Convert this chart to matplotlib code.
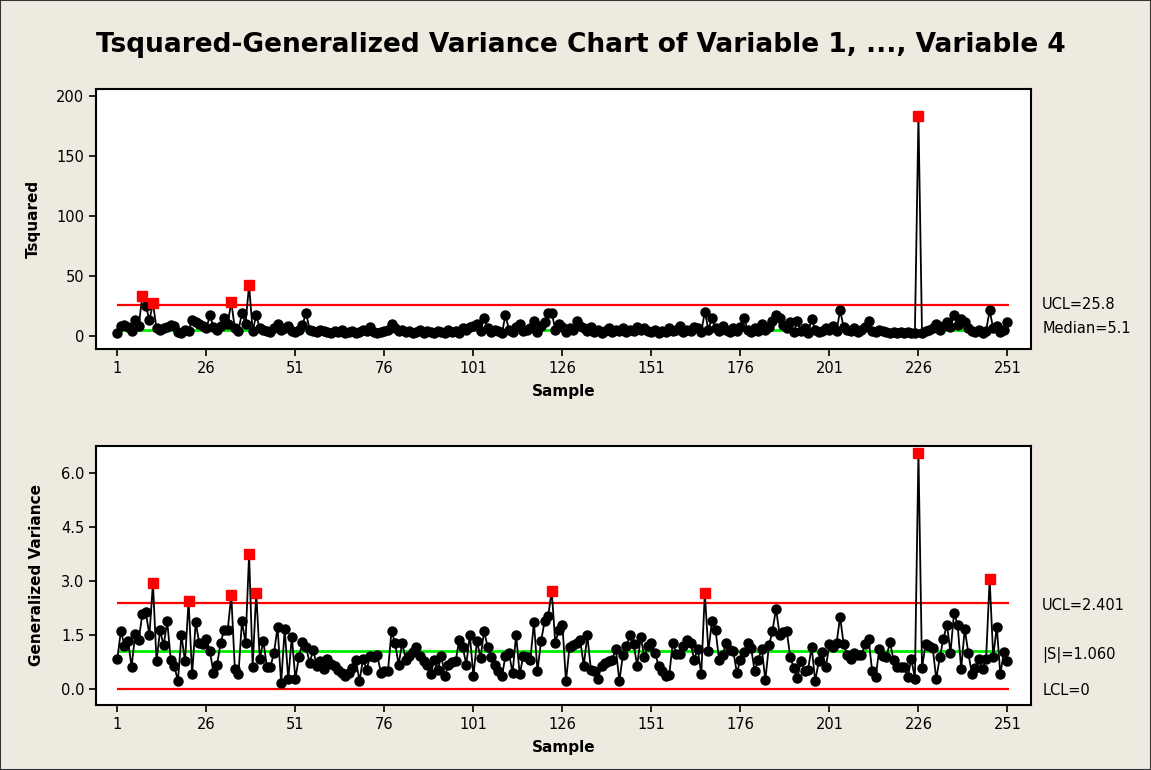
# Tsquared-Generalized Variance chart (Minitab style).
import numpy as np
import matplotlib.pyplot as plt
from matplotlib.transforms import blended_transform_factory

# Tsquared per sample
tsq = [2, 8, 9, 7, 4, 13, 8, 33, 25, 13,
       27, 6, 5, 6, 7, 9, 8, 3, 2, 5,
       4, 13, 11, 10, 8, 6, 17, 7, 5, 8,
       15, 10, 28, 6, 4, 19, 10, 42, 4, 17,
       6, 5, 4, 3, 6, 10, 5, 6, 8, 4,
       3, 5, 9, 19, 5, 4, 3, 5, 4, 3,
       2, 4, 3, 5, 2, 3, 4, 2, 3, 5,
       4, 7, 3, 2, 3, 4, 5, 10, 6, 4,
       5, 3, 4, 2, 3, 5, 2, 4, 3, 2,
       4, 3, 2, 5, 3, 4, 2, 6, 5, 7,
       8, 10, 4, 15, 6, 3, 5, 4, 2, 17,
       5, 3, 7, 10, 4, 5, 6, 12, 3, 8,
       11, 19, 19, 5, 10, 7, 3, 6, 5, 12,
       8, 6, 4, 7, 3, 5, 2, 4, 6, 3,
       5, 4, 6, 3, 5, 4, 7, 5, 6, 4,
       3, 5, 2, 4, 3, 6, 4, 5, 8, 3,
       5, 4, 7, 6, 3, 20, 5, 15, 6, 4,
       8, 5, 3, 6, 4, 7, 15, 5, 3, 6,
       4, 10, 5, 7, 12, 17, 15, 9, 6, 11,
       3, 12, 4, 6, 2, 14, 5, 3, 4, 6,
       5, 8, 4, 21, 7, 5, 4, 6, 3, 5,
       7, 12, 4, 3, 5, 4, 3, 2, 3, 2,
       3, 2, 3, 2, 2, 183, 2, 4, 5, 6,
       10, 5, 8, 11, 7, 17, 9, 14, 11, 6,
       4, 3, 5, 2, 4, 21, 6, 8, 3, 5,
       11]

# Generalized variance |S| per sample
gv = [0.85, 1.63, 1.2, 1.34, 0.63, 1.53, 1.38, 2.08, 2.14, 1.5,
      2.95, 0.78, 1.64, 1.22, 1.89, 0.83, 0.66, 0.23, 1.5, 0.78,
      2.45, 0.42, 1.86, 1.29, 1.25, 1.41, 1.06, 0.46, 0.69, 1.29,
      1.66, 1.66, 2.61, 0.57, 0.42, 1.89, 1.29, 3.75, 0.63, 2.68,
      0.85, 1.34, 0.63, 0.63, 1.02, 1.73, 0.17, 1.68, 0.28, 1.46,
      0.3, 0.9, 1.31, 1.18, 0.74, 1.09, 0.66, 0.8, 0.57, 0.85,
      0.7, 0.65, 0.55, 0.45, 0.37, 0.46, 0.6, 0.83, 0.23, 0.85,
      0.55, 0.92, 0.9, 0.97, 0.46, 0.5, 0.51, 1.62, 1.29, 0.69,
      1.29, 0.83, 0.92, 1.05, 1.18, 0.92, 0.8, 0.69, 0.42, 0.83,
      0.55, 0.92, 0.37, 0.69, 0.75, 0.78, 1.37, 1.18, 0.69, 1.52,
      0.37, 1.34, 0.88, 1.62, 1.18, 0.9, 0.69, 0.51, 0.37, 0.92,
      1.0, 0.46, 1.52, 0.42, 0.92, 0.9, 0.83, 1.86, 0.51, 1.34,
      1.89, 2.03, 2.73, 1.29, 1.66, 1.8, 0.23, 1.18, 1.22, 1.3,
      1.37, 0.66, 1.5, 0.55, 0.51, 0.3, 0.65, 0.74, 0.8, 0.83,
      1.13, 0.23, 0.97, 1.2, 1.5, 1.25, 0.66, 1.46, 0.9, 1.2,
      1.29, 1.02, 0.66, 0.51, 0.37, 0.4, 1.29, 0.99, 0.99, 1.2,
      1.37, 1.29, 0.83, 1.13, 0.42, 2.68, 1.06, 1.89, 1.66, 0.83,
      0.97, 1.29, 1.1, 1.06, 0.46, 0.83, 1.04, 1.29, 1.15, 0.51,
      0.83, 1.13, 0.26, 1.22, 1.62, 2.24, 1.52, 1.6, 1.62, 0.9,
      0.6, 0.32, 0.78, 0.51, 0.55, 1.18, 0.23, 0.78, 1.04, 0.63,
      1.25, 1.18, 1.29, 2.01, 1.25, 0.97, 0.85, 1.02, 0.97, 0.97,
      1.25, 1.39, 0.51, 0.35, 1.13, 0.92, 0.9, 1.31, 0.83, 0.63,
      0.63, 0.63, 0.35, 0.85, 0.3, 6.55, 0.6, 1.25, 1.2, 1.15,
      0.3, 0.89, 1.4, 1.8, 1.02, 2.12, 1.8, 0.57, 1.68, 1.02,
      0.44, 0.6, 0.85, 0.57, 0.85, 3.06, 0.9, 1.74, 0.42, 1.04,
      0.8]

x_ticks = [1, 26, 51, 76, 101, 126, 151, 176, 201, 226, 251]
tsq_ticks = [0, 50, 100, 150, 200]
gv_ticks = [0.0, 1.5, 3.0, 4.5, 6.0]

tsq_ucl = 25.8
tsq_median = 5.1
gv_ucl = 2.401
gv_center = 1.060
gv_lcl = 0

bg = '#eeeae0'
samples = np.arange(1, len(tsq) + 1)


def draw_panel(ax, values, ucl, center, lcl, labels):
    values = np.array(values)
    # limit lines run over the samples only
    ax.hlines(ucl, 1, len(values) + 0.5, colors='#ff0000', lw=1.6, zorder=2)
    ax.hlines(center, 1, len(values) + 0.5, colors='#00ee00', lw=2, zorder=2)
    if lcl is not None:
        ax.hlines(lcl, 1, len(values) + 0.5, colors='#ff0000', lw=1.6, zorder=2)
    ax.plot(samples, values, color='black', lw=1.3, marker='o', markersize=6.5,
            markerfacecolor='black', markeredgecolor='black', zorder=3)
    out = values > ucl
    ax.plot(samples[out], values[out], linestyle='none', marker='s',
            markersize=7, color='#ff0000', zorder=4)

    trans = blended_transform_factory(ax.transAxes, ax.transData)
    for y, txt in labels:
        ax.text(1.012, y, txt, transform=trans, ha='left', va='center',
                fontsize=10.5, clip_on=False)

    ax.set_xticks(x_ticks)
    ax.set_xlim(-5, 257.6)
    ax.tick_params(axis='both', direction='out', length=5, width=1.2,
                   labelsize=10.5)
    for sp in ax.spines.values():
        sp.set_linewidth(1.5)
    ax.set_xlabel('Sample', fontweight='bold', fontsize=11, labelpad=6)


fig = plt.figure(figsize=(11.51, 7.70), dpi=100, facecolor=bg)

ax1 = fig.add_axes([0.0834, 0.5468, 0.8123, 0.3377])
draw_panel(ax1, tsq, tsq_ucl, tsq_median, None,
           [(tsq_ucl + 0.5, 'UCL=25.8'), (tsq_median + 1, 'Median=5.1')])
ax1.set_ylim(-11.1, 205.6)
ax1.set_yticks(tsq_ticks)
ax1.set_ylabel('Tsquared', fontweight='bold', fontsize=11, labelpad=11)

ax2 = fig.add_axes([0.0834, 0.0844, 0.8123, 0.3364])
draw_panel(ax2, gv, gv_ucl, gv_center, gv_lcl,
           [(gv_ucl - 0.07, 'UCL=2.401'), (gv_center - 0.1, '|S|=1.060'),
            (gv_lcl - 0.02, 'LCL=0')])
ax2.set_ylim(-0.43, 6.75)
ax2.set_yticks(gv_ticks)
ax2.set_yticklabels(['0.0', '1.5', '3.0', '4.5', '6.0'])
ax2.set_ylabel('Generalized Variance', fontweight='bold', fontsize=11,
               labelpad=12)

fig.suptitle('Tsquared-Generalized Variance Chart of Variable 1, ..., Variable 4',
             x=0.505, y=0.958, fontsize=19, fontweight='bold')

# thin frame around the whole picture
fig.patches.append(plt.Rectangle((0, 0), 1, 1, transform=fig.transFigure,
                                 fill=False, edgecolor='#333333', lw=1.5))

fig.savefig('out.png', dpi=100, facecolor=bg)
